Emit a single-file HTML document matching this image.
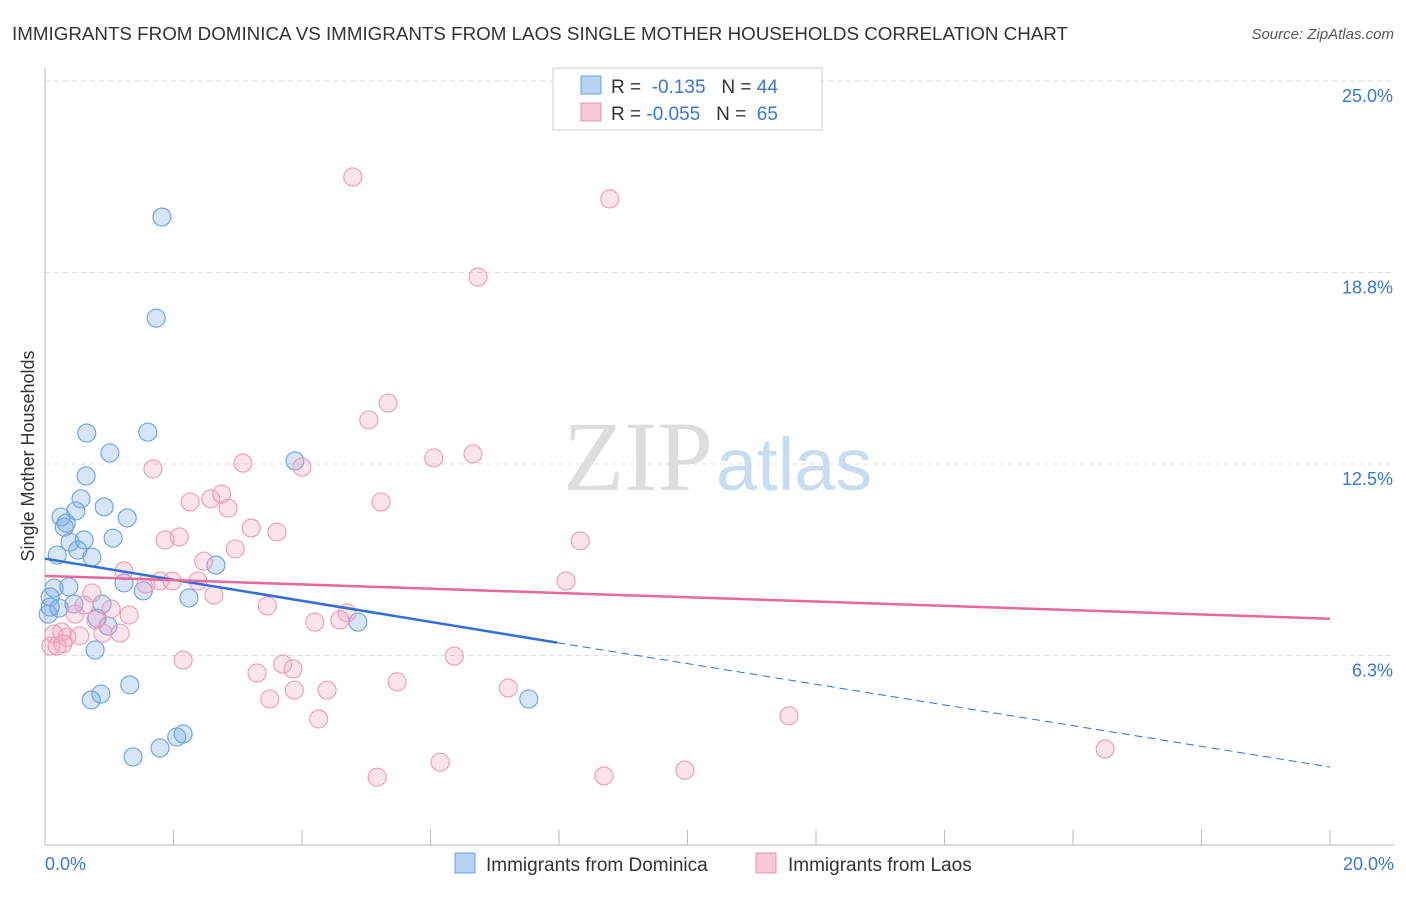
<!DOCTYPE html>
<html><head><meta charset="utf-8"><style>
body{margin:0;background:#fff;font-family:"Liberation Sans",sans-serif;}
svg text{font-family:"Liberation Sans",sans-serif;}
</style></head><body>
<svg width="1406" height="892" id="chart" xmlns="http://www.w3.org/2000/svg">
<text x="12" y="40" font-size="18.5" fill="#333" textLength="1056" lengthAdjust="spacingAndGlyphs">IMMIGRANTS FROM DOMINICA VS IMMIGRANTS FROM LAOS SINGLE MOTHER HOUSEHOLDS CORRELATION CHART</text>
<text x="1394" y="39" font-size="15" fill="#555" text-anchor="end" font-style="italic">Source: ZipAtlas.com</text>
<text x="713" y="490" font-size="100" fill="#ddd" text-anchor="end" style="font-family:'Liberation Serif',serif">ZIP</text>
<text x="716" y="490" font-size="74" fill="#c8dcf2">atlas</text>
<g id="grid"></g><g id="axes"></g><g id="marks"></g>
<text transform="translate(34,456) rotate(-90)" font-size="18" fill="#333" text-anchor="middle">Single Mother Households</text>
<g>
<rect x="553" y="68" width="269" height="62" fill="#fff" stroke="#ccc"/>
<rect x="581" y="76" width="20" height="18" fill="#b8d4f4" stroke="#6aa0e0"/>
<rect x="581" y="103" width="20" height="18" fill="#f8c8d8" stroke="#e890aa"/>
<text x="611" y="93" font-size="19" fill="#333">R = <tspan fill="#3a78d0">&#160;-0.135</tspan>&#160;&#160;&#160;N = <tspan fill="#3a78d0">44</tspan></text>
<text x="611" y="120" font-size="19" fill="#333">R = <tspan fill="#3a78d0">-0.055</tspan>&#160;&#160;&#160;N = <tspan fill="#3a78d0">&#160;65</tspan></text>
</g>
<g>
<rect x="455" y="853" width="20" height="20" fill="#b8d4f4" stroke="#6aa0e0"/>
<text x="486" y="871" font-size="19" fill="#333">Immigrants from Dominica</text>
<rect x="756" y="853" width="20" height="20" fill="#f8c8d8" stroke="#e890aa"/>
<text x="788" y="871" font-size="19" fill="#333">Immigrants from Laos</text>
</g>
</svg>
<script>
const yTicks=[25,18.75,12.5,6.25];
const yTickLabels=["25.0%","18.8%","12.5%","6.3%"];
const xTickVals=[0,2,4,6,8,10,12,14,16,18,20];
const blueX=[1.82,1.73,0.65,1.60,1.01,3.89,0.64,0.56,0.92,0.25,0.48,0.33,0.30,1.28,0.61,1.06,0.39,0.51,0.73,0.19,2.66,1.23,0.37,0.14,0.08,1.53,0.89,2.24,0.45,0.22,0.08,0.05,0.81,0.98,4.87,0.78,0.87,0.72,1.32,7.53,2.15,2.05,1.79,1.37];
const blueY=[20.56,17.26,13.51,13.54,12.86,12.60,12.11,11.36,11.10,10.77,10.97,10.57,10.44,10.74,10.02,10.08,9.95,9.69,9.46,9.53,9.20,8.62,8.49,8.45,8.16,8.36,7.93,8.13,7.93,7.80,7.83,7.60,7.47,7.21,7.34,6.43,4.99,4.80,5.29,4.83,3.69,3.59,3.23,2.94];
const pinkX=[4.79,8.79,6.74,5.34,5.04,6.66,6.05,1.68,3.08,4.00,2.26,2.58,2.75,2.85,5.23,3.21,3.61,1.87,2.09,8.33,2.96,2.47,1.23,1.57,1.79,1.98,2.38,2.63,8.11,0.73,0.61,1.03,1.31,3.46,0.47,4.70,4.20,4.59,0.26,1.17,0.54,0.90,0.34,0.14,0.09,0.19,0.28,2.15,6.37,3.70,3.86,3.30,3.88,4.39,5.48,7.21,3.50,4.26,11.58,16.50,5.17,6.15,8.70,9.96,0.79];
const pinkY=[21.87,21.15,18.60,14.49,13.94,12.83,12.70,12.34,12.53,12.40,11.26,11.36,11.52,11.06,11.26,10.41,10.28,10.02,10.12,9.99,9.73,9.33,9.01,8.58,8.68,8.68,8.68,8.22,8.68,8.29,7.90,7.77,7.57,7.87,7.60,7.64,7.34,7.41,7.02,6.98,6.89,6.98,6.85,6.95,6.56,6.56,6.63,6.10,6.23,5.97,5.81,5.68,5.12,5.12,5.39,5.19,4.83,4.18,4.28,3.20,2.28,2.77,2.32,2.51,7.41];
const blueLine=[9.41,6.67,2.61];
const blueLineX=[0,7.97,20];
const pinkLine=[8.85,7.45];
const NS="http://www.w3.org/2000/svg";
const sx=v=>45+v/20*1285;
const sy=v=>847-v*30.64;
function mk(tag,attrs,parent){const e=document.createElementNS(NS,tag);for(const k in attrs)e.setAttribute(k,attrs[k]);document.getElementById(parent).appendChild(e);return e;}
yTicks.forEach((t,i)=>{
 const l=mk('line',{x1:45,x2:1394,y1:sy(t),y2:sy(t),stroke:'#ddd','stroke-dasharray':'5,4'},'grid');
 
 
 const tx=mk('text',{x:1393,y:sy(t)+21,'font-size':18,fill:'#3a78d0','text-anchor':'end'},'axes');
 tx.textContent=yTickLabels[i];
 
 
});
const ax=mk('line',{x1:45,x2:45,y1:68,y2:845,stroke:'#bbb'},'axes');


const bx=mk('line',{x1:45,x2:1394,y1:845,y2:845,stroke:'#bbb'},'axes');


xTickVals.forEach(v=>{
 const t=mk('line',{x1:sx(v),x2:sx(v),y1:830,y2:845,stroke:'#bbb'},'axes');
 
 
});
const xl0=mk('text',{x:45,y:870,'font-size':18,fill:'#3a78d0'},'axes');xl0.textContent='0.0%';


const xl1=mk('text',{x:1394,y:870,'font-size':18,fill:'#3a78d0','text-anchor':'end'},'axes');xl1.textContent='20.0%';


blueX.forEach((x,i)=>{
 const c=mk('circle',{cx:sx(x),cy:sy(blueY[i]),r:9,fill:'rgba(120,170,232,0.3)',stroke:'#6aa0e0','stroke-width':1.1},'marks');
 
 
});
pinkX.forEach((x,i)=>{
 const c=mk('circle',{cx:sx(x),cy:sy(pinkY[i]),r:9,fill:'rgba(245,165,195,0.3)',stroke:'#eb9ab5','stroke-width':1.1},'marks');
 
 
});
const b1=mk('line',{x1:sx(blueLineX[0]),y1:sy(blueLine[0]),x2:sx(blueLineX[1]),y2:sy(blueLine[1]),stroke:'#2f6fd6','stroke-width':2.5},'marks');


const b2=mk('line',{x1:sx(blueLineX[1]),y1:sy(blueLine[1]),x2:sx(blueLineX[2]),y2:sy(blueLine[2]),stroke:'#2f6fd6','stroke-width':1,'stroke-dasharray':'8,5'},'marks');


const p1=mk('line',{x1:sx(0),y1:sy(pinkLine[0]),x2:sx(20),y2:sy(pinkLine[1]),stroke:'#e8689a','stroke-width':2.5},'marks');


</script>
</body></html>
